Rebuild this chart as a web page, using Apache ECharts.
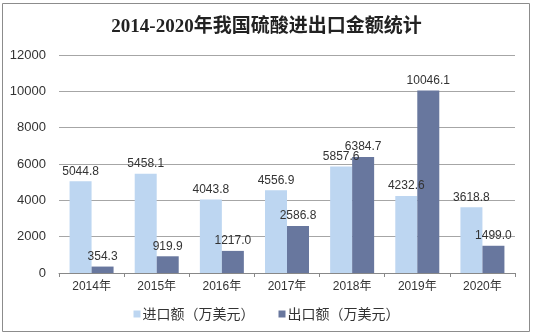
<!DOCTYPE html>
<html><head><meta charset="utf-8">
<script src="https://cdn.jsdelivr.net/npm/echarts@6/dist/echarts.min.js"></script>
<style>html,body{margin:0;padding:0;background:#fff}#c{width:533px;height:336px}</style>
</head><body><div id="c"></div>
<script>
var categories = ['2014年','2015年','2016年','2017年','2018年','2019年','2020年'];
var importValues = [5044.8, 5458.1, 4043.8, 4556.9, 5857.6, 4232.6, 3618.8];
var exportValues = [354.3, 919.9, 1217.0, 2586.8, 6384.7, 10046.1, 1499.0];
var seriesNames = ['进口额（万美元）', '出口额（万美元）'];
var titleText = '2014-2020年我国硫酸进出口金额统计';

var chart = echarts.init(document.getElementById('c'), null, {renderer:'canvas'});
var lbl = {show:true, position:'top', distance:4, color:'#333', fontSize:12,
  fontFamily:'Liberation Sans, Arial, sans-serif',
  formatter:function(p){return p.value.toFixed(1);}};
chart.setOption({
  animation:false,
  backgroundColor:'#fff',
  graphic:[{type:'rect', shape:{x:2.5,y:3.5,width:527,height:328}, style:{fill:'none', stroke:'#8c8c8c', lineWidth:1}, z:-1}],
  title:{text:titleText, left:'center', top:13,
    textStyle:{fontSize:19, fontWeight:'bold', color:'#222', fontFamily:'Liberation Serif, Noto Sans CJK SC, serif'}},
  legend:{bottom:10, left:'center', itemWidth:7, itemHeight:7, itemGap:24, icon:'rect',
    textStyle:{fontSize:14, color:'#333', fontFamily:'Noto Sans CJK SC, sans-serif', padding:[0,0,0,-3]},
    data:seriesNames},
  grid:{left:59, right:18, top:55, bottom:63},
  xAxis:{type:'category', data:categories,
    axisLine:{lineStyle:{color:'#888'}},
    axisTick:{show:true, length:4, lineStyle:{color:'#888'}},
    axisLabel:{color:'#333', fontSize:12, margin:8, fontFamily:'Liberation Sans, Noto Sans CJK SC, sans-serif'}},
  yAxis:{type:'value', min:0, max:12000, interval:2000,
    axisLine:{show:false}, axisTick:{show:false},
    splitLine:{lineStyle:{color:'#a6a6a6'}},
    axisLabel:{color:'#333', fontSize:13, margin:13, fontFamily:'Liberation Sans, Arial, sans-serif',
      formatter:function(v){return String(v);}}},
  series:[
    {name:seriesNames[0], type:'bar', data:importValues, barWidth:22, barGap:'0%',
      itemStyle:{color:'#bdd6f1'}, label:lbl},
    {name:seriesNames[1], type:'bar', data:exportValues, barWidth:22, barGap:'0%',
      itemStyle:{color:'#68779e'}, label:lbl}
  ]
});
</script></body></html>
